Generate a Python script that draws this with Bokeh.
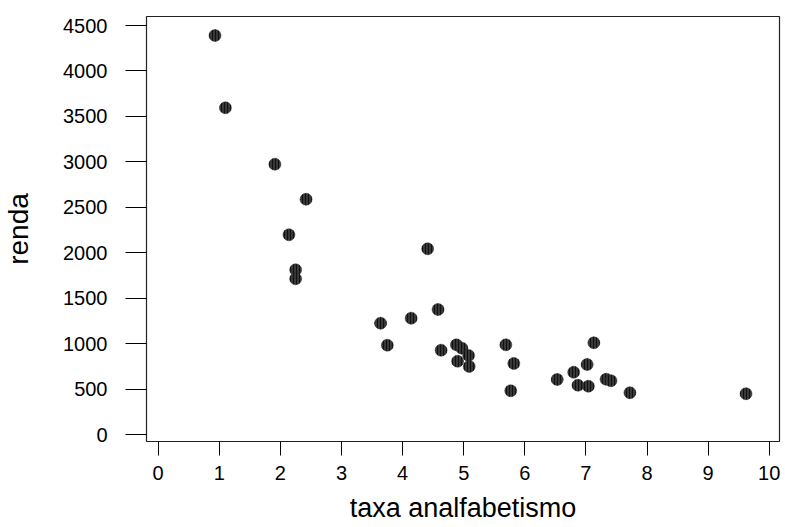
from bokeh.plotting import figure
from bokeh.models import FixedTicker, Range1d
from bokeh.embed import file_html
from bokeh.resources import INLINE

# data
taxa_analfabetismo = [0.93, 1.10, 1.91, 2.42, 2.14, 4.41, 2.25, 2.25, 3.64, 3.75,
                      4.14, 4.58, 4.63, 4.88, 4.97, 5.08, 4.90, 5.09, 5.69, 5.82,
                      5.77, 6.53, 6.80, 7.02, 7.13, 6.87, 7.04, 7.33, 7.41, 7.72, 9.62]
renda = [4390, 3595, 2975, 2590, 2199, 2045, 1814, 1715, 1227, 985,
         1282, 1377, 930, 989, 952, 872, 809, 751, 989, 784,
         484, 608, 688, 773, 1011, 545, 534, 611, 594, 462, 451]
x_ticks = [0, 1, 2, 3, 4, 5, 6, 7, 8, 9, 10]
y_ticks = [0, 500, 1000, 1500, 2000, 2500, 3000, 3500, 4000, 4500]

p = figure(width=785, height=527, output_backend="svg", toolbar_location=None,
           x_range=Range1d(-0.191, 10.168), y_range=Range1d(-74, 4599),
           min_border_left=146, min_border_right=6, min_border_top=16, min_border_bottom=86)

p.scatter(taxa_analfabetismo, renda, size=12, fill_color="#383838", line_color="#2a2a2a",
          line_width=0.5, hatch_pattern="vertical_line", hatch_color="#111111",
          hatch_scale=3, hatch_weight=1)

p.grid.visible = False
p.background_fill_color = "white"
p.border_fill_color = "white"
p.outline_line_color = "#222222"
p.outline_line_width = 1.2

for ax, ticks in ((p.xaxis[0], x_ticks), (p.yaxis[0], y_ticks)):
    ax.ticker = FixedTicker(ticks=ticks)
    ax.axis_line_color = None
    ax.minor_tick_line_color = None
    ax.major_tick_in = 0
    ax.major_tick_line_color = "black"
    ax.major_tick_line_width = 1
    ax.major_label_text_font = "Liberation Sans"
    ax.major_label_text_font_size = "20px"
    ax.major_label_text_color = "black"
    ax.axis_label_text_font = "Liberation Sans"
    ax.axis_label_text_font_size = "27px"
    ax.axis_label_text_font_style = "normal"
    ax.axis_label_text_color = "black"

p.yaxis.axis_label_text_font_size = "28px"
p.xaxis.axis_label = "taxa analfabetismo"
p.yaxis.axis_label = "renda"
p.xaxis.major_tick_out = 14
p.yaxis.major_tick_out = 21
p.xaxis.major_label_standoff = 10
p.yaxis.major_label_standoff = 18
p.xaxis.axis_label_standoff = 10
p.yaxis.axis_label_standoff = 26

open("out.html", "w").write(file_html(p, INLINE))
